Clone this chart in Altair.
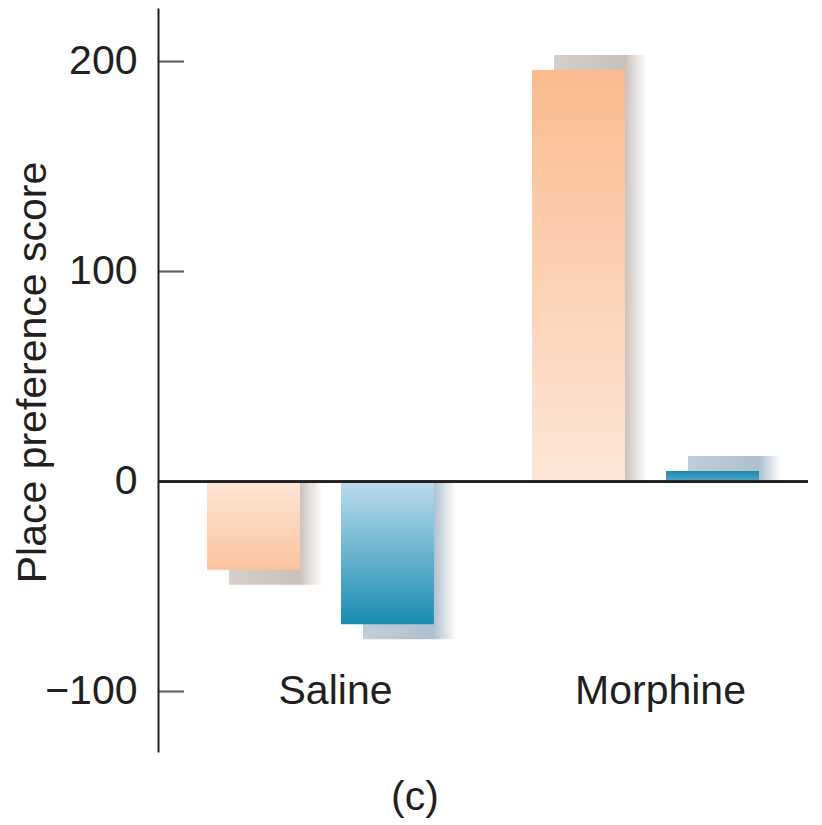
import altair as alt
import pandas as pd

# ---- data ----
categories = ["Saline", "Morphine"]
series = ["Series 1", "Series 2"]
series1_values = [-42, 196]
series2_values = [-68, 5]
axis_labels = [-100, 0, 100, 200]
tick_marks = [200, 100, -100]
category_label_level = [-100]

rows = []
for s, vals in zip(series, [series1_values, series2_values]):
    for c, v in zip(categories, vals):
        rows.append({"category": c, "series": s, "value": v})
df = pd.DataFrame(rows)
ticks_df = pd.DataFrame({"value": tick_marks})
labels_df = pd.DataFrame({"category": categories,
                          "value": category_label_level * len(categories)})

FONT = "Liberation Sans"
INK = "#231f20"
WIDTH, HEIGHT = 650, 744
BAND = WIDTH / len(categories)
SHADOW_DX = 22

# ---- styles (not data) ----
bar_fills = {
    ("Series 1", "Saline"): ("#fee6d6", "#fbc39d"),
    ("Series 1", "Morphine"): ("#fde6d8", "#fbbb8f"),
    ("Series 2", "Saline"): ("#bcdced", "#1a8bb1"),
    ("Series 2", "Morphine"): ("#52aacd", "#1f86ad"),
}
shadow_cols = {"Series 1": "180,166,158", "Series 2": "140,165,185"}

x_enc = alt.X("category:N",
              scale=alt.Scale(domain=categories, paddingInner=0, paddingOuter=0),
              axis=None)


def xo_enc(shift=0):
    return alt.XOffset("series:N",
                       scale=alt.Scale(domain=series, paddingInner=0.306,
                                       paddingOuter=0.366,
                                       range=[shift, BAND + shift]))


y_axis = alt.Axis(
    title="Place preference score", titleFont=FONT, titleFontSize=41,
    titleFontWeight="normal", titleColor=INK, titleX=-113, titleY=364,
    titleAngle=270, titleAlign="center", titleBaseline="alphabetic",
    values=axis_labels, labelFont=FONT, labelFontSize=41, labelColor=INK,
    labelPadding=21, ticks=False, grid=False,
    domainColor=INK, domainWidth=2,
)
y_scale = alt.Scale(domain=[-128.8, 225.5], nice=False, zero=False)


def y_enc():
    return alt.Y("value:Q", scale=y_scale, axis=y_axis)


layers = []
# shadows (offset copies of each bar)
for (s, c), _ in bar_fills.items():
    v = df[(df.series == s) & (df.category == c)]["value"].iloc[0]
    col = shadow_cols[s]
    grad = alt.Gradient(
        gradient="linear", x1=0, y1=0, x2=1, y2=0,
        stops=[alt.GradientStop(offset=0, color=f"rgba({col},0.55)"),
               alt.GradientStop(offset=0.76, color=f"rgba({col},0.7)"),
               alt.GradientStop(offset=1, color=f"rgba({col},0)")])
    layers.append(
        alt.Chart(df).transform_filter(
            (alt.datum.series == s) & (alt.datum.category == c)
        ).mark_bar(color=grad, yOffset=(15 if v < 0 else -15)).encode(
            x=x_enc, xOffset=xo_enc(SHADOW_DX), y=y_enc(), y2=alt.datum(0)
        )
    )
# bars
for (s, c), (light, dark) in bar_fills.items():
    v = df[(df.series == s) & (df.category == c)]["value"].iloc[0]
    if v < 0:
        grad = alt.Gradient(gradient="linear", x1=0, y1=0, x2=0, y2=1,
                            stops=[alt.GradientStop(offset=0, color=light),
                                   alt.GradientStop(offset=1, color=dark)])
    else:
        grad = alt.Gradient(gradient="linear", x1=0, y1=1, x2=0, y2=0,
                            stops=[alt.GradientStop(offset=0, color=light),
                                   alt.GradientStop(offset=1, color=dark)])
    layers.append(
        alt.Chart(df).transform_filter(
            (alt.datum.series == s) & (alt.datum.category == c)
        ).mark_bar(color=grad).encode(
            x=x_enc, xOffset=xo_enc(0), y=y_enc(), y2=alt.datum(0)
        )
    )

zero_line = alt.Chart(df).mark_rule(color=INK, strokeWidth=2.2).encode(y=alt.datum(0))
ticks = alt.Chart(ticks_df).mark_tick(orient="horizontal", size=26, thickness=2.2,
                                      color=INK).encode(y=y_enc(), x=alt.value(13))
cat_text = alt.Chart(labels_df).mark_text(
    font=FONT, fontSize=41, color=INK, baseline="middle", dx=15
).encode(x=x_enc, y=y_enc(), text="category:N")

chart = alt.layer(*layers, zero_line, ticks, cat_text).resolve_scale(
    xOffset="independent"
).properties(
    width=WIDTH, height=HEIGHT,
    title=alt.TitleParams("(c)", orient="bottom", font=FONT, fontSize=41,
                          fontWeight="normal", color=INK, dx=-68, offset=26),
    autosize=alt.AutoSizeParams(type="none"),
    padding={"left": 150, "top": 0, "right": 6, "bottom": 70},
    background="white",
).configure_view(stroke=None)

chart.save("out.html", embed_options={"renderer": "svg", "actions": False})
